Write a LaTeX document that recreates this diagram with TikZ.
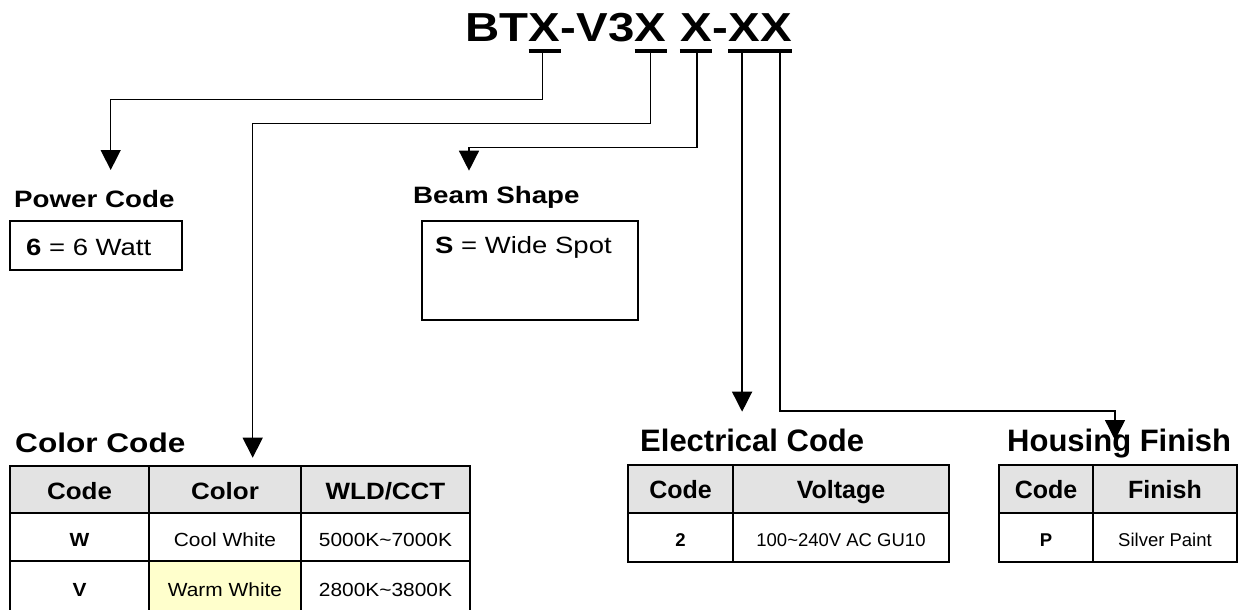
\documentclass[tikz,border=0pt]{standalone}
\usepackage{fontspec}
\setmainfont{Liberation Sans}
\newfontfamily\lf[FakeStretch=1.17]{Liberation Sans}
\newfontfamily\mf[FakeStretch=1.1]{Liberation Sans}
\usetikzlibrary{arrows.meta,calc}
\definecolor{hdr}{HTML}{E3E3E3}
\definecolor{warm}{HTML}{FFFFCC}
\tikzset{
 conn/.style={line width=1.4pt, -{Triangle[width=20pt,length=20pt]}},
 ul/.style={line width=4pt},
 frame/.style={draw, line width=2pt, inner sep=0pt, anchor=north west},
 grid/.style={line width=2pt},
 tx/.style={inner sep=0pt, anchor=base west},
 cx/.style={inner sep=0pt, anchor=base},
 title/.style={tx, font=\lf\bfseries\fontsize{40.5}{44}\selectfont},
 headS/.style={tx, font=\lf\bfseries\fontsize{23.7}{26}\selectfont},
 boxtext/.style={tx, font=\lf\fontsize{23.5}{26}\selectfont},
 headL/.style={tx, font=\lf\bfseries\fontsize{27}{30}\selectfont},
 headR/.style={tx, font=\bfseries\fontsize{31}{34}\selectfont},
 thL/.style={cx, font=\mf\bfseries\fontsize{23.6}{26}\selectfont},
 tdL/.style={cx, font=\mf\fontsize{19}{22}\selectfont},
 tdLb/.style={cx, font=\mf\bfseries\fontsize{19}{22}\selectfont},
 thR/.style={cx, font=\bfseries\fontsize{25}{28}\selectfont},
 tdR/.style={cx, font=\fontsize{18.5}{21}\selectfont},
 tdRb/.style={cx, font=\bfseries\fontsize{18.5}{21}\selectfont},
}
\begin{document}
\begin{tikzpicture}[x=1pt,y=-1pt]
\useasboundingbox[fill=white] (0,0) rectangle (1247,610);

% title
\node[title] (tA) at (465,42) {BT};
\node[title] (tX1) at (tA.base east) {X};
\node[title] (tB) at (tX1.base east) {-V3};
\node[title] (tX2) at (tB.base east) {X};
\node[title] (tX3) at ($(tX2.base east)+(13.2,0)$) {X};
\node[title] (tC) at (tX3.base east) {-};
\node[title] (tX4) at (tC.base east) {X};
\node[title] (tX5) at (tX4.base east) {X};
\draw[ul] ($(tX1.base west)+(0,9)$) -- ($(tX1.base east)+(0,9)$);
\draw[ul] ($(tX2.base west)+(0,9)$) -- ($(tX2.base east)+(0,9)$);
\draw[ul] ($(tX3.base west)+(0,9)$) -- ($(tX3.base east)+(0,9)$);
\draw[ul] ($(tX4.base west)+(0,9)$) -- ($(tX5.base east)+(0,9)$);

\coordinate (s1) at ($(tX1.base)+(-2,11)$);
\coordinate (s2) at ($(tX2.base)+(0,11)$);
\coordinate (s3) at ($(tX3.base)+(1,11)$);
\coordinate (s4) at ($(tX4.base)+(-2,11)$);
\coordinate (s5) at ($(tX5.base)+(4,11)$);

% connectors
\coordinate (pk) at (110.7,99.3);
\coordinate (pa) at (110.7,170);
\draw[conn] (s1) |- (pk) -- (pa);
\coordinate (ck) at (252.7,123.3);
\coordinate (ca) at (252.7,457.7);
\draw[conn] (s2) |- (ck) -- (ca);
\coordinate (bk) at (469,147.3);
\coordinate (ba) at (469,170.7);
\draw[conn] (s3) |- (bk) -- (ba);
\coordinate (ea) at (s4 |- 0,411.7);
\draw[conn] (s4) -- (ea);
\coordinate (hk) at (1115,411);
\coordinate (ha) at (1115,440);
\draw[conn] (s5) |- (hk) -- (ha);

% power code
\node[headS] (ph) at (14,207) {Power Code};
\node[frame, minimum width=171.7pt, minimum height=49.3pt] (pbox) at (9.3,220) {};
\node[boxtext] (pt) at (26,255) {\bfseries 6\mdseries{} = 6 Watt};

% beam shape
\node[headS] (bh) at (413,203) {Beam Shape};
\node[frame, minimum width=216.3pt, minimum height=99pt] (bbox) at (420.7,220) {};
\node[boxtext] (bt) at (435,253) {\bfseries S\mdseries{} = Wide Spot};

% color code
\node[headL] (cch) at (15,452) {Color Code};
\fill[hdr] (10,466) rectangle (470,513);
\fill[warm] (149,561) rectangle (301,614);
\draw[grid] (10,614) -- (10,466) -- (470,466) -- (470,614);
\draw[grid] (10,513) -- (470,513);
\draw[grid] (10,561) -- (470,561);
\draw[grid] (149,466) -- (149,614);
\draw[grid] (301,466) -- (301,614);
\node[thL] (c11) at (79.5,499) {Code};
\node[thL] (c12) at (225,499) {Color};
\node[thL] (c13) at (385.5,499) {WLD/CCT};
\node[tdLb] (c21) at (79.5,546) {W};
\node[tdL] (c22) at (225,546) {Cool White};
\node[tdL] (c23) at (385.5,546) {5000K\textasciitilde7000K};
\node[tdLb] (c31) at (79.5,596) {V};
\node[tdL] (c32) at (225,596) {Warm White};
\node[tdL] (c33) at (385.5,596) {2800K\textasciitilde3800K};

% electrical code
\node[headR] (eh) at (640,451) {Electrical Code};
\fill[hdr] (628,465) rectangle (949,513);
\draw[grid] (628,465) rectangle (949,562);
\draw[grid] (628,513) -- (949,513);
\draw[grid] (733,465) -- (733,562);
\node[thR] (e11) at (680.5,498) {Code};
\node[thR] (e12) at (841,498) {Voltage};
\node[tdRb] (e21) at (680.5,546) {2};
\node[tdR] (e22) at (841,546) {100\textasciitilde240V AC GU10};

% housing finish
\node[headR] (hh) at (1007,451) {Housing Finish};
\fill[hdr] (999,465) rectangle (1237,513);
\draw[grid] (999,465) rectangle (1237,562);
\draw[grid] (999,513) -- (1237,513);
\draw[grid] (1093,465) -- (1093,562);
\node[thR] (h11) at (1046,498) {Code};
\node[thR] (h12) at (1165,498) {Finish};
\node[tdRb] (h21) at (1046,546) {P};
\node[tdR] (h22) at (1165,546) {Silver Paint};
\end{tikzpicture}
\end{document}
